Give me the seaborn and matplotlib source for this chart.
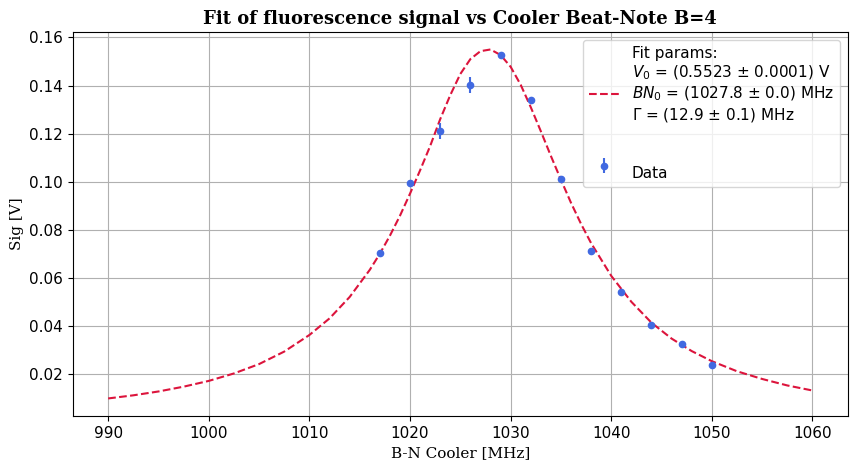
import matplotlib

matplotlib.use("Agg")
import matplotlib.pyplot as plt
import pandas as pd
import seaborn as sns

# measured points
bn_cooler = [1017, 1020, 1023, 1026, 1029, 1032, 1035, 1038, 1041, 1044, 1047, 1050]
signal = [0.0703, 0.0995, 0.1209, 0.1403, 0.1528, 0.1338, 0.1009, 0.0711, 0.0539, 0.0403, 0.0323, 0.0237]
signal_err = [0.0012, 0.0012, 0.0033, 0.0033, 0.0010, 0.0008, 0.0010, 0.0010, 0.0008, 0.0006, 0.0012, 0.0008]

# fitted curve
fit_x = [990, 992.5, 995, 997.5, 1000, 1002.5, 1005, 1007.5, 1010, 1012, 1014, 1016,
         1017, 1018, 1019, 1020, 1021, 1022, 1023, 1024, 1025, 1026, 1027, 1028,
         1029, 1030, 1031, 1032, 1033, 1034, 1035, 1036, 1037, 1038, 1040, 1042,
         1044, 1046, 1048, 1050, 1052.5, 1055, 1057.5, 1060]
fit_y = [0.0098, 0.0111, 0.0127, 0.0147, 0.0171, 0.0202, 0.0241, 0.0293, 0.0362, 0.0431,
         0.0520, 0.0633, 0.0700, 0.0775, 0.0858, 0.0950, 0.1047, 0.1148, 0.1260, 0.1360,
         0.1448, 0.1510, 0.1543, 0.1550, 0.1527, 0.1478, 0.1403, 0.1310, 0.1210, 0.1107,
         0.1008, 0.0912, 0.0824, 0.0744, 0.0608, 0.0500, 0.0413, 0.0347, 0.0295, 0.0253,
         0.0211, 0.0179, 0.0152, 0.0131]

fit_label = (
    "Fit params:\n"
    "$V_0$ = (0.5523 ± 0.0001) V\n"
    "$BN_0$ = (1027.8 ± 0.0) MHz\n"
    "$\\Gamma$ = (12.9 ± 0.1) MHz\n"
)
data_label = "\nData"

df_fit = pd.DataFrame({"x": fit_x, "y": fit_y})

fig, ax = plt.subplots(figsize=(8.58, 4.71), dpi=100)
fig.subplots_adjust(left=0.085, right=0.988, top=0.932, bottom=0.117)

sns.lineplot(data=df_fit, x="x", y="y", ax=ax, color="crimson", linestyle="--",
             linewidth=1.5, label=fit_label, estimator=None, sort=False)
ax.errorbar(bn_cooler, signal, yerr=signal_err, fmt="o", color="royalblue",
            markersize=4.5, elinewidth=1.5, label=data_label)

ax.grid(True, color="#b0b0b0", linewidth=0.8)
ax.set_title("Fit of fluorescence signal vs Cooler Beat-Note B=4",
             family="DejaVu Serif", fontweight="bold", fontsize=13)
ax.set_xlabel("B-N Cooler [MHz]", family="DejaVu Serif", fontsize=11)
ax.set_ylabel("Sig [V]", family="DejaVu Serif", fontsize=11)
ax.tick_params(labelsize=11)
ax.legend(loc="upper right", fontsize=11)

fig.savefig("out.png", dpi=100)
